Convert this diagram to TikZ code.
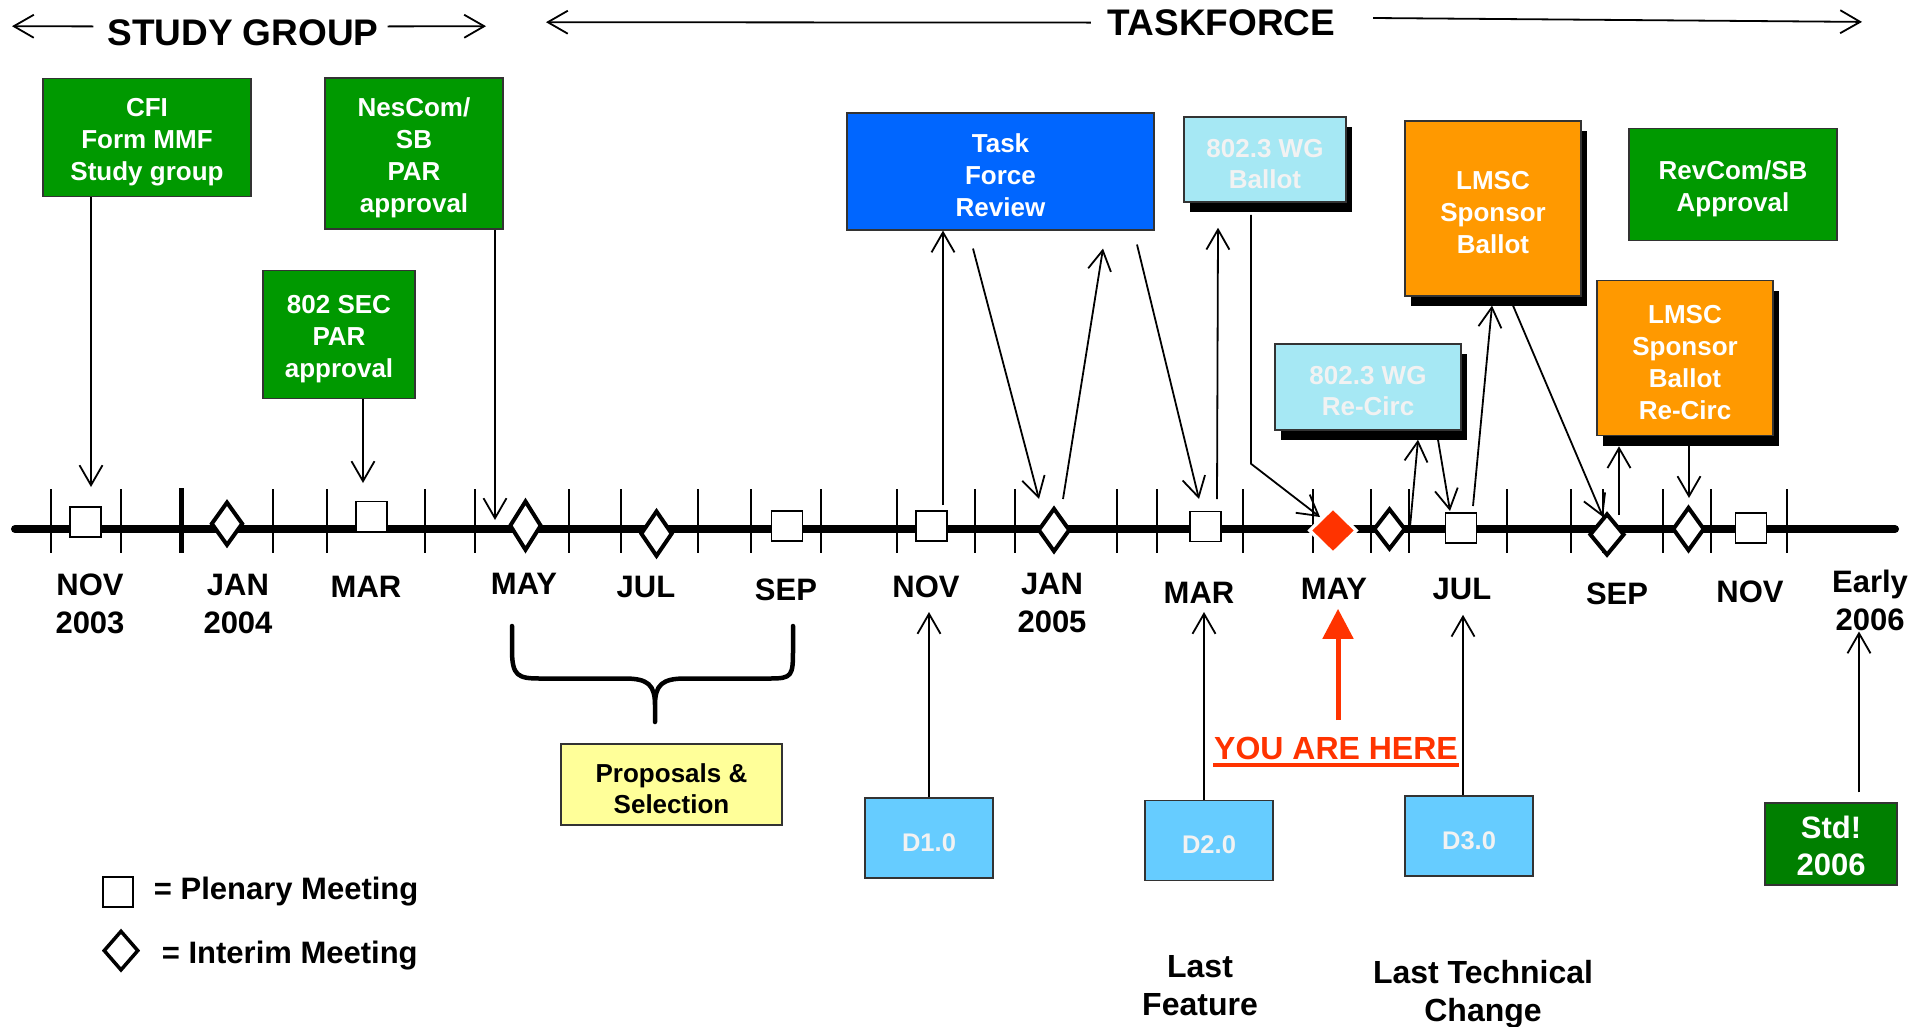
\documentclass[tikz,border=0pt]{standalone}
\usepackage{fontspec}
\setmainfont{Liberation Sans}
\usetikzlibrary{arrows.meta,shapes.geometric,shadows}
\definecolor{sgreen}{HTML}{009900}
\definecolor{stdgreen}{HTML}{007F00}
\definecolor{tfblue}{HTML}{0066FF}
\definecolor{wgcyan}{HTML}{A6E8F4}
\definecolor{wgtext}{HTML}{F2F2F2}
\definecolor{lmorange}{HTML}{FF9900}
\definecolor{draftblue}{HTML}{66CCFF}
\definecolor{propyellow}{HTML}{FFFF99}
\definecolor{herered}{HTML}{FF3300}
\newcommand\boxstrut{\rule{0pt}{27pt}}

\begin{document}
\begin{tikzpicture}[x=1pt, y=-1pt, font=\bfseries, ->, >={Straight Barb[length=20pt,width=23pt]}, line width=1.8pt]
    \tikzstyle{box}     = [rectangle, draw=black!80, line width=1.5pt, inner sep=0, text=white, align=center, font=\bfseries\fontsize{26}{32}\selectfont]
    \tikzstyle{dropbox} = [drop shadow={shadow xshift=6pt, shadow yshift=-10pt, opacity=1, fill=black}]
    \tikzstyle{wg}      = [box, dropbox, fill=wgcyan, text=wgtext, font=\bfseries\fontsize{26}{31}\selectfont]
    \tikzstyle{draft}   = [box, fill=draftblue, text=wgtext, minimum width=128, minimum height=80, font=\bfseries\fontsize{25.5}{30}\selectfont]
    \tikzstyle{month}   = [inner sep=0, align=center, font=\bfseries\fontsize{31}{38}\selectfont]
    \tikzstyle{note}    = [inner sep=0, align=center, font=\bfseries\fontsize{32}{38}\selectfont]
    \tikzstyle{legendtext} = [inner sep=0, anchor=west, font=\bfseries\fontsize{31}{36}\selectfont]
    \tikzstyle{plen}    = [rectangle, draw, line width=1.8pt, fill=white, minimum width=31, minimum height=30, inner sep=0]
    \tikzstyle{inter}   = [diamond, draw, line width=4pt, fill=white, minimum width=32, minimum height=44, inner sep=0]

    \useasboundingbox[fill=white] (0,0) rectangle (1929,1026);

    \node[inner sep=0, font=\bfseries\fontsize{37}{44}\selectfont] (sg) at (243,32.4)   {STUDY GROUP};
    \node[inner sep=0, font=\bfseries\fontsize{37}{44}\selectfont] (tk) at (1221.5,22.6) {TASKFORCE};
    \coordinate (sgl) at (12,26.2);
    \coordinate (sgr) at (486,26.2);
    \coordinate (tkl) at (546,22.2);
    \coordinate (tkr) at (1862,21.9);
    \draw ([xshift=-13pt,yshift=6pt]sg.west) -- (sgl);
    \draw ([xshift=8pt,yshift=6pt]sg.east)   -- (sgr);
    \draw ([xshift=-16pt]tk.west)            -- (tkl);
    \draw ([xshift=37pt,yshift=4.6pt]tk.east) -- (tkr);

    \node[box, fill=sgreen, minimum width=208, minimum height=118]           (cfi) at (147,137.5)  {\boxstrut CFI\\Form MMF\\Study group};
    \node[box, fill=sgreen, minimum width=178, minimum height=151]           (nes) at (414,153.7)  {\boxstrut NesCom/\\SB\\PAR\\approval};
    \node[box, fill=sgreen, minimum width=152, minimum height=128]           (sec) at (339,334.5)  {\boxstrut 802 SEC\\PAR\\approval};
    \node[box, fill=tfblue, minimum width=307, minimum height=117]           (tfr) at (1000.5,171.3) {\boxstrut Task\\Force\\Review};
    \node[wg, minimum width=162, minimum height=85]                          (wgb) at (1265,159.5) {\boxstrut 802.3 WG\\Ballot};
    \node[box, dropbox, fill=lmorange, minimum width=176, minimum height=175] (lsb) at (1493,208.3) {\boxstrut LMSC\\Sponsor\\Ballot};
    \node[box, fill=sgreen, minimum width=208, minimum height=112]           (rev) at (1733,184.5) {\boxstrut RevCom/SB\\Approval};
    \node[wg, minimum width=186, minimum height=86]                          (wgr) at (1368,387)   {\boxstrut 802.3 WG\\Re-Circ};
    \node[box, dropbox, fill=lmorange, minimum width=176, minimum height=155] (lsr) at (1685,358)   {\boxstrut LMSC\\Sponsor\\Ballot\\Re-Circ};

    \node[box, fill=propyellow, text=black, minimum width=221, minimum height=81, font=\bfseries\fontsize{26}{31}\selectfont] (pro) at (671.5,784.3) {\boxstrut Proposals \&\\Selection};
    \node[draft] (d1) at (929,838)    {\boxstrut D1.0};
    \node[draft] (d2) at (1209,840.4) {\boxstrut D2.0};
    \node[draft] (d3) at (1469,836.2) {\boxstrut D3.0};
    \node[box, fill=stdgreen, minimum width=132, minimum height=82, font=\bfseries\fontsize{31}{37}\selectfont] (std) at (1831,844) {\boxstrut Std!\\2006};

    \draw[-, line width=8pt, line cap=round] (15,529) -- (1895,529);
    \foreach \t in {51,121,273,327,425,475,569,621,698,751,821,897,975,1015,1117,1157,1243,1313,1371,1409,1507,1571,1603,1663,1711,1787}
      \draw[-, line width=2pt] (\t,489) -- (\t,553);
    \draw[-, line width=5pt] (181,488) -- (181,553);

    \node[plen]  (pnov03) at (85.5,522.3)  {};
    \node[inter] (ijan04) at (227,523.7)   {};
    \node[plen]  (pmar04) at (371.5,516.5) {};
    \node[inter, minimum height=50] (imay04) at (525.5,525.6) {};
    \node[inter, minimum height=46] (ijul04) at (656.5,533.6) {};
    \node[plen]  (psep04) at (787,526.3)   {};
    \node[plen]  (pnov04) at (931.5,526.3) {};
    \node[inter] (ijan05) at (1054,530)    {};
    \node[plen]  (pmar05) at (1205.5,526.5) {};
    \node[diamond, fill=herered, draw=white, line width=3.4pt, minimum width=48, minimum height=47, inner sep=0] (here) at (1333,530.5) {};
    \node[inter, minimum height=41] (ijun05) at (1389.5,529) {};
    \node[plen]  (pjul05) at (1461,528)    {};
    \node[inter, minimum width=35, minimum height=42] (isep05) at (1607,534.5) {};
    \node[inter] (ioct05) at (1688.5,529)  {};
    \node[plen]  (pnov05) at (1751,528)    {};

    \node[month] (n03) at (90,603.7)   {NOV\\2003};
    \node[month] (j04) at (238,603.7)  {JAN\\2004};
    \node[month] (m04) at (366,587)    {MAR};
    \node[month] (y04) at (524,584)    {MAY};
    \node[month] (l04) at (646,587.4)  {JUL};
    \node[month] (s04) at (786,590)    {SEP};
    \node[month] (v04) at (926,587)    {NOV};
    \node[month] (j05) at (1052,603.3) {JAN\\2005};
    \node[month] (m05) at (1199,592.6) {MAR};
    \node[month] (y05) at (1334,588.8) {MAY};
    \node[month] (l05) at (1462,588.8) {JUL};
    \node[month] (s05) at (1617,594)   {SEP};
    \node[month] (v05) at (1750,592.3) {NOV};
    \node[month] (e06) at (1870,600)   {Early\\2006};

    \draw[-, line width=4.5pt, line cap=round, line join=round]
      (512,626) -- (512,650) .. controls (512,676) and (518,678.5) .. (540,678.5) -- (625,678.5)
      .. controls (648,678.5) and (655,685) .. (655,705) -- (655,722)
      (655,705) .. controls (655,685) and (662,678.5) .. (685,678.5) -- (770,678.5)
      .. controls (792,678.5) and (793,676) .. (793,650) -- (793,626);

    \node[note, text=herered] (yah) at (1336,748) {YOU ARE HERE};
    \draw[-, herered, line width=4pt] ([yshift=-4.5pt]yah.south west) -- ([yshift=-4.5pt]yah.south east);
    \draw[-{Triangle[length=30pt,width=30pt]}, herered, line width=5pt] ([xshift=2pt,yshift=28pt]yah.center) -- ([xshift=4pt,yshift=-20pt]y05.center);

    \node[note, anchor=north] (lf)  at (1200,955)   {Last\\Feature};
    \node[note, anchor=north] (ltc) at (1483,959.8) {Last Technical\\Change};

    \node[plen, minimum width=30, minimum height=30] (lp) at (118,892) {};
    \node[legendtext] (lpt) at (153,891.7) {= Plenary Meeting};
    \node[inter, line width=3.5pt, minimum width=35, minimum height=40] (li) at (121,950.6) {};
    \node[legendtext] (lit) at (161,955.3) {= Interim Meeting};

    \draw ([xshift=-56pt]cfi.south) -- ([xshift=5.5pt,yshift=35.3pt]pnov03.center);
    \draw ([xshift=24pt]sec.south)  -- ([xshift=-8.5pt,yshift=33.5pt]pmar04.center);
    \draw ([xshift=81pt]nes.south)  -- ([xshift=-30.5pt,yshift=5.6pt]imay04.center);
    \draw ([xshift=11.5pt,yshift=21.3pt]pnov04.center) -- ([xshift=-57.5pt]tfr.south);
    \draw ([xshift=-27.5pt,yshift=-18pt]tfr.south) -- ([xshift=-15pt,yshift=31pt]ijan05.center);
    \draw ([xshift=9pt,yshift=31pt]ijan05.center) -- ([xshift=102.5pt,yshift=-18pt]tfr.south);
    \draw ([xshift=136.5pt,yshift=-14pt]tfr.south) -- ([xshift=-6.5pt,yshift=27.5pt]pmar05.center);
    \draw ([xshift=11.5pt,yshift=27.5pt]pmar05.center) -- ([xshift=-47pt,yshift=-25pt]wgb.south);
    \draw ([xshift=-14pt,yshift=-12pt]wgb.south) -- ++(0,249) -- ([xshift=-13pt,yshift=13.5pt]here.center);
    \draw ([xshift=20.5pt,yshift=2pt]ijun05.center) -- ([xshift=50pt,yshift=-9pt]wgr.south);
    \draw ([xshift=70pt,yshift=-9pt]wgr.south) -- ([xshift=-11pt,yshift=17pt]pjul05.center);
    \draw ([xshift=12pt,yshift=22pt]pjul05.center) -- ([xshift=-1pt,yshift=-9pt]lsb.south);
    \draw ([xshift=20pt,yshift=-9pt]lsb.south) -- ([xshift=-4pt,yshift=17.5pt]isep05.center);
    \draw ([xshift=12pt,yshift=19.5pt]isep05.center) -- ([xshift=-66pt,yshift=-10pt]lsr.south);
    \draw ([xshift=4pt,yshift=-10pt]lsr.south) -- ([xshift=0.5pt,yshift=31pt]ioct05.center);
    \draw (d1.north) -- ([xshift=3pt,yshift=-25pt]v04.center);
    \draw ([xshift=-5pt]d2.north) -- ([xshift=5pt,yshift=-19.4pt]m05.center);
    \draw ([xshift=-6pt]d3.north) -- ([xshift=1pt,yshift=-26pt]l05.center);
    \draw ([xshift=28pt,yshift=10pt]std.north) -- ([xshift=-11pt,yshift=-31.5pt]e06.center);
\end{tikzpicture}
\end{document}
